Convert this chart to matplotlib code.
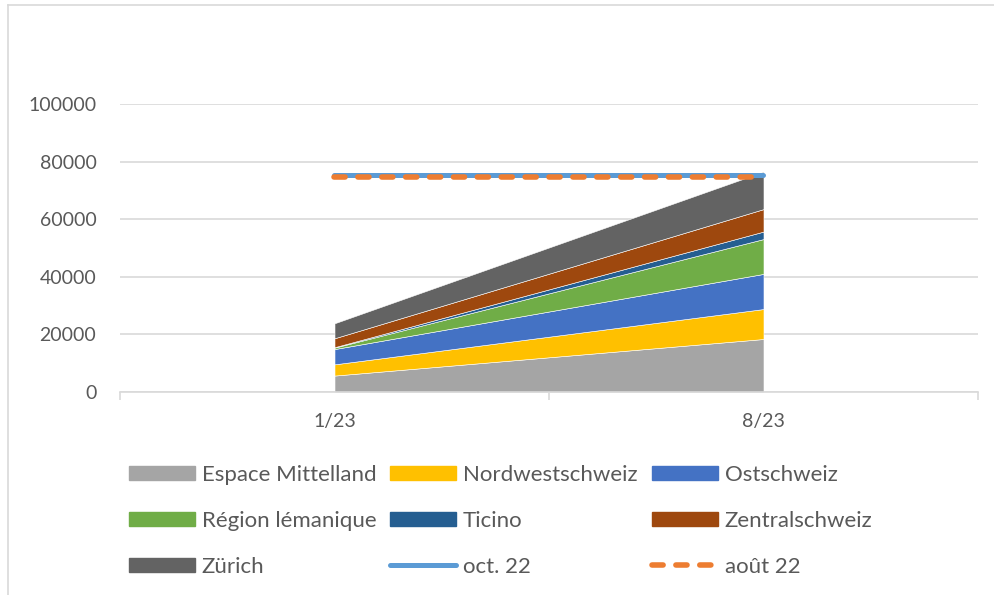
import numpy as np
import matplotlib.pyplot as plt
from matplotlib.patches import Patch
from matplotlib.lines import Line2D

# data
months = ['1/23', '8/23']
regions = ['Espace Mittelland', 'Nordwestschweiz', 'Ostschweiz',
           'Région lémanique', 'Ticino', 'Zentralschweiz', 'Zürich']
espace = [5700, 18400]
nordwest = [3900, 10400]
ost = [5300, 12200]
lemanique = [500, 12100]
ticino = [150, 2600]
zentral = [3100, 7800]
zuerich = [5200, 13000]
oct22 = [75200, 75200]
aout22 = [74500, 74500]

colors = ['#A5A5A5', '#FFC000', '#4472C4', '#70AD47', '#255E91', '#9E480E', '#636363']
textcol = '#595959'
gridcol = '#D9D9D9'

plt.rcParams['font.family'] = ['Lato', 'DejaVu Sans']

fig = plt.figure(figsize=(9.95, 5.95), dpi=100)
ax = fig.add_axes([120/995, 1-392/595, 858/995, 288/595])

x = np.arange(len(months))
ax.stackplot(x, espace, nordwest, ost, lemanique, ticino, zentral, zuerich,
             colors=colors, edgecolor='white', linewidth=0.4, zorder=2)
ax.plot(x, oct22, color='#5B9BD5', lw=3.6, solid_capstyle='round', zorder=3)
ax.plot(x, aout22, color='#ED7D31', lw=4, dashes=(2, 2.3),
        dash_capstyle='round', zorder=4)

ax.set_xlim(-0.5, 1.5)
ax.set_ylim(0, 100000)
ax.set_yticks(np.arange(0, 100001, 20000))
ax.yaxis.grid(True, color=gridcol, lw=1.2, zorder=0)
ax.set_axisbelow(True)
for s in ['top', 'right', 'left']:
    ax.spines[s].set_visible(False)
ax.spines['bottom'].set_color(gridcol)
ax.spines['bottom'].set_linewidth(1.2)

ax.set_xticks(x)
ax.set_xticklabels(months)
ax.set_xticks([-0.5, 0.5, 1.5], minor=True)
ax.tick_params(axis='x', which='major', length=0, pad=15, labelsize=14, labelcolor=textcol)
ax.tick_params(axis='x', which='minor', length=6, width=1.2, color=gridcol)
ax.tick_params(axis='y', length=0, pad=17, labelsize=14, labelcolor=textcol)

# chart border (left and top visible)
fig.add_artist(Line2D([8/995, 8/995], [0, 1-5/595], color=gridcol, lw=1.2))
fig.add_artist(Line2D([8/995, 1], [1-5/595, 1-5/595], color=gridcol, lw=1.2))

# legend, three equal columns like Excel
h = [Patch(color=c) for c in colors]
h.append(Line2D([], [], color='#5B9BD5', lw=3.6, solid_capstyle='round'))
h.append(Line2D([], [], color='#ED7D31', lw=4, dashes=(2, 2.3), dash_capstyle='round'))
labels = regions + ['oct. 22', 'août 22']
cols = [[0, 3, 6], [1, 4, 7], [2, 5, 8]]
xs = [129, 390, 652]
for xc, idx in zip(xs, cols):
    fig.legend([h[i] for i in idx], [labels[i] for i in idx],
               loc='upper left', bbox_to_anchor=(xc/995, 1-465/595),
               frameon=False, fontsize=16, labelcolor=textcol,
               handlelength=2.97, handleheight=0.63, handletextpad=0.3,
               labelspacing=1.17, borderpad=0, borderaxespad=0)

fig.savefig('out.png', dpi=100)
